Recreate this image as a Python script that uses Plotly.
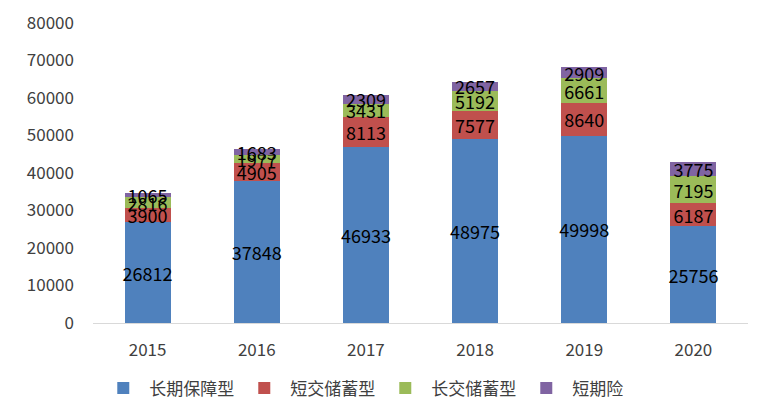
import plotly.graph_objects as go

years = ["2015", "2016", "2017", "2018", "2019", "2020"]
long_protect = [26812, 37848, 46933, 48975, 49998, 25756]
short_saving = [3900, 4905, 8113, 7577, 8640, 6187]
long_saving = [2816, 1977, 3431, 5192, 6661, 7195]
short_term = [1065, 1683, 2309, 2657, 2909, 3775]

names = ["长期保障型", "短交储蓄型", "长交储蓄型", "短期险"]
colors = ["#4F81BD", "#C0504D", "#9BBB59", "#8064A2"]
series = [long_protect, short_saving, long_saving, short_term]

font_family = "Noto Sans CJK SC, Noto Sans, sans-serif"

fig = go.Figure()
for name, color, vals in zip(names, colors, series):
    fig.add_trace(go.Bar(
        x=years, y=vals, name=name,
        marker=dict(color=color, line=dict(width=0)),
        text=[str(v) for v in vals],
        textposition="inside",
        insidetextanchor="middle",
        constraintext="none",
        textangle=0,
        textfont=dict(color="black", size=18, family=font_family),
        cliponaxis=False,
        width=0.42,
    ))

fig.update_layout(
    barmode="stack",
    width=760, height=411,
    margin=dict(l=93, r=12, t=23, b=88, autoexpand=False),
    paper_bgcolor="white", plot_bgcolor="white",
    font=dict(family=font_family, size=17, color="#404040"),
    legend=dict(orientation="h", traceorder="normal",
                yref="container", xref="container",
                x=0.128, xanchor="left", y=0.055, yanchor="middle",
                font=dict(size=17, color="#404040"), entrywidth=84, itemwidth=42),
    xaxis=dict(showline=True, linecolor="#D9D9D9", linewidth=1, ticks="",
               ticklabelstandoff=12,
               tickfont=dict(size=17, color="#404040")),
    yaxis=dict(range=[0, 80000], dtick=10000, showgrid=False, zeroline=False,
               showline=False, ticks="", tickformat="d", ticklabelstandoff=18,
               tickfont=dict(size=17, color="#404040")),
)

fig.write_html("out.html")
